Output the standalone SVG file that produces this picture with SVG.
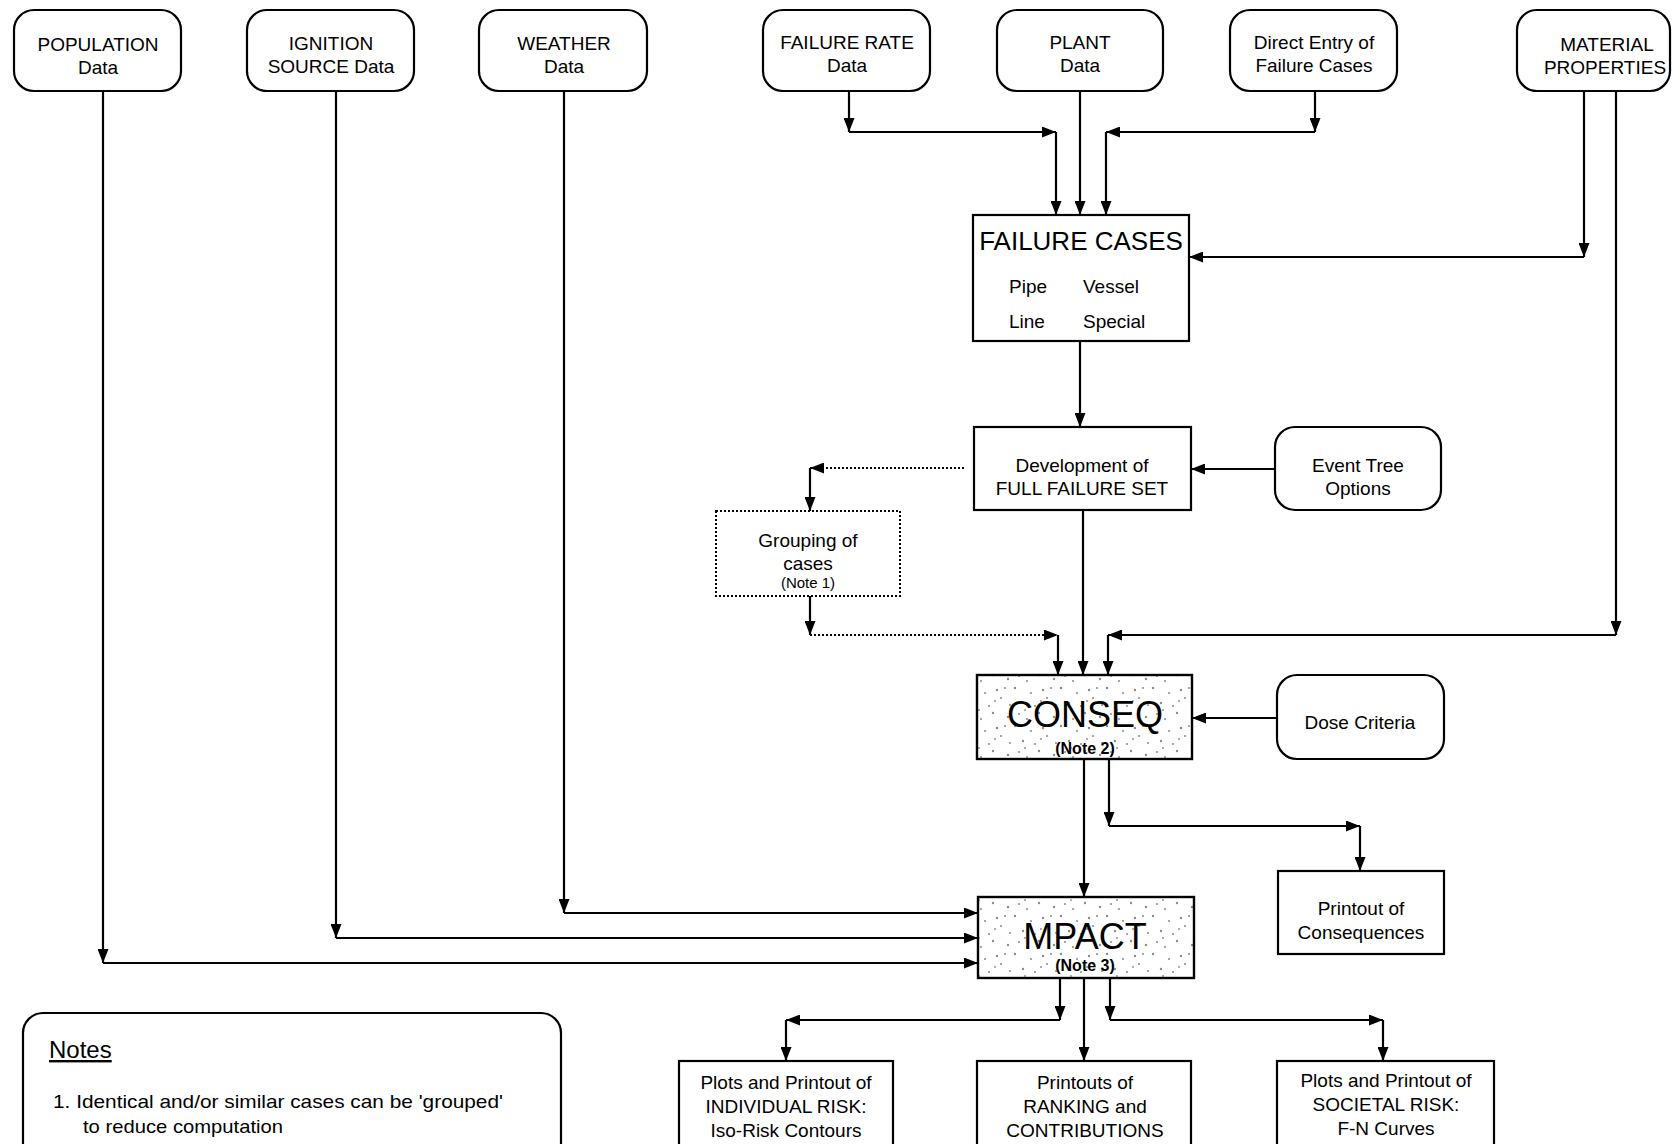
<svg xmlns="http://www.w3.org/2000/svg" width="1672" height="1144" viewBox="0 0 1672 1144">
  <defs>
    <marker id="ah" viewBox="0 0 14 11" refX="14" refY="5.5" markerWidth="14" markerHeight="11" markerUnits="userSpaceOnUse" orient="auto">
      <path d="M0,0 L14,5.5 L0,11 Z" fill="#000"/>
    </marker>
    <pattern id="stipple" width="46" height="38" patternUnits="userSpaceOnUse">
      <rect width="46" height="38" fill="#fff"/>
      <g fill="#8a8a8a">
        <circle cx="3" cy="4" r="1.2"/><circle cx="11" cy="19" r="1.2"/><circle cx="19" cy="9" r="1"/>
        <circle cx="27" cy="29" r="1.2"/><circle cx="35" cy="14" r="1"/><circle cx="42" cy="33" r="1.2"/>
        <circle cx="7" cy="30" r="1"/><circle cx="23" cy="22" r="1"/><circle cx="39" cy="4" r="1"/>
        <circle cx="15" cy="35" r="1"/><circle cx="31" cy="6" r="1.2"/><circle cx="44" cy="21" r="1"/>
        <circle cx="13" cy="26" r="0.9"/><circle cx="29" cy="17" r="0.9"/>
      </g>
    </pattern>
    <style>
      .box { fill: #fff; stroke: #000; stroke-width: 2.2; }
      .dotbox { fill: #fff; stroke: #000; stroke-width: 2; stroke-dasharray: 2 2; }
      .shade { fill: url(#stipple); stroke: #000; stroke-width: 2.4; }
      .t { font-family: "Liberation Sans", Arial, sans-serif; font-size: 19px; fill: #000; text-anchor: middle; }
      .big { font-size: 26px; }
      .huge { font-size: 36px; }
      .note { font-size: 16px; font-weight: bold; }
      .small { font-size: 15px; }
      .left { text-anchor: start; }
      .ln { fill: none; stroke: #000; stroke-width: 2.2; marker-end: url(#ah); }
      .dot { fill: none; stroke: #000; stroke-width: 1.8; stroke-dasharray: 2 2; marker-end: url(#ah); }
    </style>
  </defs>

  <rect width="1672" height="1144" fill="#fff"/>

  <!-- connectors -->
  <g id="connectors">
    <!-- failure rate data to failure cases -->
    <path class="ln" d="M849,91 L849,132"/>
    <path class="ln" d="M849,132 L1056,132"/>
    <path class="ln" d="M1056,132 L1056,215"/>
    <!-- plant data to failure cases -->
    <path class="ln" d="M1080,91 L1080,215"/>
    <!-- direct entry to failure cases -->
    <path class="ln" d="M1315,91 L1315,132"/>
    <path class="ln" d="M1315,132 L1106,132"/>
    <path class="ln" d="M1106,132 L1106,215"/>
    <!-- material properties to failure cases -->
    <path class="ln" d="M1584,91 L1584,257"/>
    <path class="ln" d="M1584,257 L1189,257"/>
    <!-- material properties to conseq -->
    <path class="ln" d="M1616,91 L1616,635"/>
    <path class="ln" d="M1616,635 L1108,635"/>
    <path class="ln" d="M1108,635 L1108,675"/>
    <!-- failure cases to development -->
    <path class="ln" d="M1080,341 L1080,427"/>
    <!-- event tree options to development -->
    <path class="ln" d="M1275,469 L1191,469"/>
    <!-- development to grouping (optional) -->
    <path class="dot" d="M964,468 L810,468"/>
    <path class="ln" d="M810,468 L810,511"/>
    <!-- grouping to conseq -->
    <path class="ln" d="M810,596 L810,635"/>
    <path class="dot" d="M810,635 L1058,635"/>
    <path class="ln" d="M1058,635 L1058,675"/>
    <!-- development to conseq -->
    <path class="ln" d="M1083,510 L1083,675"/>
    <!-- dose criteria to conseq -->
    <path class="ln" d="M1277,718 L1192,718"/>
    <!-- conseq to mpact -->
    <path class="ln" d="M1084,759 L1084,897"/>
    <!-- conseq to printout -->
    <path class="ln" d="M1109,759 L1109,826"/>
    <path class="ln" d="M1109,826 L1360,826"/>
    <path class="ln" d="M1360,826 L1360,871"/>
    <!-- weather, ignition, population to mpact -->
    <path class="ln" d="M564,91 L564,913"/>
    <path class="ln" d="M564,913 L978,913"/>
    <path class="ln" d="M336,91 L336,938"/>
    <path class="ln" d="M336,938 L978,938"/>
    <path class="ln" d="M103,91 L103,963"/>
    <path class="ln" d="M103,963 L978,963"/>
    <!-- mpact outputs -->
    <path class="ln" d="M1060,978 L1060,1020"/>
    <path class="ln" d="M1060,1020 L786,1020"/>
    <path class="ln" d="M786,1020 L786,1061"/>
    <path class="ln" d="M1084,978 L1084,1061"/>
    <path class="ln" d="M1110,978 L1110,1020"/>
    <path class="ln" d="M1110,1020 L1383,1020"/>
    <path class="ln" d="M1383,1020 L1383,1061"/>
  </g>

  <!-- input data sources -->
  <g id="population">
    <rect class="box" x="14" y="10" width="167" height="81" rx="20"/>
    <text class="t" x="98" y="51">POPULATION</text>
    <text class="t" x="98" y="74">Data</text>
  </g>
  <g id="ignition">
    <rect class="box" x="247" y="10" width="167" height="81" rx="20"/>
    <text class="t" x="331" y="50">IGNITION</text>
    <text class="t" x="331" y="73">SOURCE Data</text>
  </g>
  <g id="weather">
    <rect class="box" x="479" y="10" width="168" height="81" rx="20"/>
    <text class="t" x="564" y="50">WEATHER</text>
    <text class="t" x="564" y="73">Data</text>
  </g>
  <g id="failure-rate">
    <rect class="box" x="763" y="10" width="167" height="81" rx="20"/>
    <text class="t" x="847" y="49">FAILURE RATE</text>
    <text class="t" x="847" y="72">Data</text>
  </g>
  <g id="plant">
    <rect class="box" x="997" y="10" width="166" height="81" rx="20"/>
    <text class="t" x="1080" y="49">PLANT</text>
    <text class="t" x="1080" y="72">Data</text>
  </g>
  <g id="direct-entry">
    <rect class="box" x="1230" y="10" width="167" height="81" rx="20"/>
    <text class="t" x="1314" y="49">Direct Entry of</text>
    <text class="t" x="1314" y="72">Failure Cases</text>
  </g>
  <g id="material">
    <rect class="box" x="1517" y="10" width="153" height="81" rx="20"/>
    <text class="t" x="1607" y="51">MATERIAL</text>
    <text class="t" x="1605" y="74">PROPERTIES</text>
  </g>

  <!-- processing steps -->
  <g id="failure-cases">
    <rect class="box" x="973" y="215" width="216" height="126"/>
    <text class="t big" x="1081" y="250">FAILURE CASES</text>
    <text class="t left" x="1009" y="293">Pipe</text>
    <text class="t left" x="1083" y="293">Vessel</text>
    <text class="t left" x="1009" y="328">Line</text>
    <text class="t left" x="1083" y="328">Special</text>
  </g>
  <g id="development">
    <rect class="box" x="974" y="427" width="217" height="83"/>
    <text class="t" x="1082" y="472">Development of</text>
    <text class="t" x="1082" y="495">FULL FAILURE SET</text>
  </g>
  <g id="event-tree">
    <rect class="box" x="1275" y="427" width="166" height="83" rx="20"/>
    <text class="t" x="1358" y="472">Event Tree</text>
    <text class="t" x="1358" y="495">Options</text>
  </g>
  <g id="grouping">
    <rect class="dotbox" x="716" y="511" width="184" height="85"/>
    <text class="t" x="808" y="547">Grouping of</text>
    <text class="t" x="808" y="570">cases</text>
    <text class="t small" x="808" y="588">(Note 1)</text>
  </g>
  <g id="conseq">
    <rect class="shade" x="977" y="675" width="215" height="84"/>
    <text class="t huge" x="1085" y="727">CONSEQ</text>
    <text class="t note" x="1085" y="754">(Note 2)</text>
  </g>
  <g id="dose">
    <rect class="box" x="1277" y="675" width="167" height="84" rx="20"/>
    <text class="t" x="1360" y="729">Dose Criteria</text>
  </g>
  <g id="printout-consequences">
    <rect class="box" x="1278" y="871" width="166" height="83"/>
    <text class="t" x="1361" y="915">Printout of</text>
    <text class="t" x="1361" y="939">Consequences</text>
  </g>
  <g id="mpact">
    <rect class="shade" x="978" y="897" width="216" height="81"/>
    <text class="t huge" x="1085" y="949">MPACT</text>
    <text class="t note" x="1085" y="971">(Note 3)</text>
  </g>

  <!-- outputs -->
  <g id="individual-risk">
    <rect class="box" x="679" y="1061" width="214" height="95"/>
    <text class="t" x="786" y="1089">Plots and Printout of</text>
    <text class="t" x="786" y="1113">INDIVIDUAL RISK:</text>
    <text class="t" x="786" y="1137">Iso-Risk Contours</text>
  </g>
  <g id="ranking">
    <rect class="box" x="977" y="1061" width="214" height="95"/>
    <text class="t" x="1085" y="1089">Printouts of</text>
    <text class="t" x="1085" y="1113">RANKING and</text>
    <text class="t" x="1085" y="1137">CONTRIBUTIONS</text>
  </g>
  <g id="societal-risk">
    <rect class="box" x="1277" y="1061" width="217" height="95"/>
    <text class="t" x="1386" y="1087">Plots and Printout of</text>
    <text class="t" x="1386" y="1111">SOCIETAL RISK:</text>
    <text class="t" x="1386" y="1135">F-N Curves</text>
  </g>

  <!-- notes panel -->
  <g id="notes">
    <rect class="box" x="23" y="1013" width="538" height="160" rx="20"/>
    <text class="t left" x="49" y="1058" style="font-size:24px; text-decoration: underline">Notes</text>
    <text class="t left" x="53" y="1108" textLength="450" lengthAdjust="spacingAndGlyphs">1.  Identical and/or similar cases can be 'grouped'</text>
    <text class="t left" x="83" y="1133" textLength="200" lengthAdjust="spacingAndGlyphs">to reduce computation</text>
  </g>
</svg>
